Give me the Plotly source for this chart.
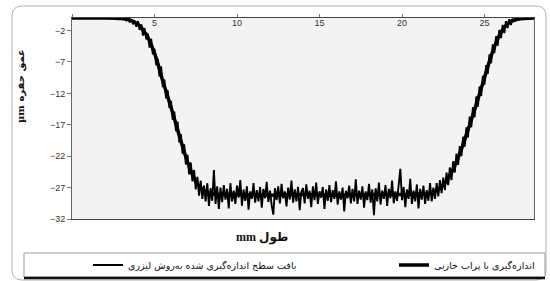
import plotly.graph_objects as go

# ---------------- data ----------------
# capacitive probe measurement (smooth profile), x in mm, depth in µm
probe_x = [0, 1, 2, 3, 3.5, 4, 4.5, 5, 5.5, 6, 6.5, 7, 7.5, 8, 8.5, 9, 10, 12, 14, 16,
           18, 20, 21, 21.5, 22, 22.5, 23, 23.5, 24, 24.5, 25, 25.5, 26, 26.5, 27, 28]
probe_y = [0, 0, 0, -0.1, -0.3, -1.0, -2.6, -5.6, -10.0, -14.2, -18.7, -22.9, -26.0, -27.5,
           -28.0, -28.1, -28.1, -28.2, -28.1, -28.2, -28.1, -28.1, -28.0, -28.0, -27.6, -26.6,
           -24.6, -21.6, -17.8, -13.8, -9.5, -5.3, -2.3, -0.7, -0.2, 0]

# laser-measured surface texture (noisy profile), sampled every 0.1 mm from 3.0 to 27.0 mm
laser_start = 3.0
laser_step = 0.1
laser_y_mid = [
    # 3.0 - 3.9
    0.0, -0.1, 0.0, -0.4, -0.1, -0.7, -0.2, -1.0, -0.5, -1.4,
    # 4.0 - 4.9
    -0.5, -1.9, -1.0, -2.8, -1.6, -3.4, -2.5, -4.7, -3.3, -5.8,
    # 5.0 - 5.9
    -4.9, -7.5, -6.5, -9.3, -7.7, -11.0, -9.8, -12.8, -11.5, -14.3,
    # 6.0 - 6.9
    -13.2, -16.2, -14.9, -18.0, -16.5, -19.8, -18.5, -21.6, -20.1, -23.3,
    # 7.0 - 7.9
    -21.8, -24.9, -23.0, -26.0, -24.2, -27.3, -25.3, -28.3, -25.9, -28.8,
    # 8.0 - 8.9
    -26.7, -29.2, -26.3, -29.9, -27.1, -29.1, -24.2, -29.6, -26.8, -30.4,
    # 9.0 - 9.9
    -27.0, -29.3, -26.6, -28.9, -27.2, -30.3, -26.3, -29.2, -27.5, -29.6,
    # 10.0 - 10.9
    -26.7, -28.6, -25.8, -29.9, -27.3, -29.1, -26.8, -30.5, -27.6, -28.8,
    # 11.0 - 11.9
    -26.3, -29.4, -27.4, -29.2, -26.9, -30.2, -27.2, -28.7, -26.1, -29.3,
    # 12.0 - 12.9
    -27.5, -29.8, -31.3, -27.1, -29.0, -26.8, -29.5, -26.4, -28.7, -27.6,
    # 13.0 - 13.9
    -30.0, -27.0, -28.9, -25.9, -29.4, -27.3, -29.2, -26.9, -30.6, -27.7,
    # 14.0 - 14.9
    -27.1, -29.5, -26.5, -28.8, -27.5, -30.1, -26.8, -29.0, -26.2, -29.6,
    # 15.0 - 15.9
    -27.6, -28.6, -26.9, -30.4, -27.3, -29.1, -26.6, -29.3, -27.4, -28.8,
    # 16.0 - 16.9
    -26.0, -29.7, -27.6, -28.9, -27.0, -30.8, -27.5, -28.7, -26.7, -29.5,
    # 17.0 - 17.9
    -27.2, -29.2, -25.7, -29.6, -27.5, -28.9, -26.8, -30.2, -27.6, -29.0,
    # 18.0 - 18.9
    -26.4, -29.4, -27.3, -31.4, -27.1, -29.2, -26.2, -29.7, -27.5, -28.8,
    # 19.0 - 19.9
    -26.6, -29.9, -27.2, -28.7, -25.9, -29.5, -27.6, -29.1, -26.7, -24.0,
    # 20.0 - 20.9
    -29.0, -26.9, -30.1, -27.3, -28.8, -25.6, -29.6, -27.5, -29.2, -26.5,
    # 21.0 - 21.9
    -30.3, -27.2, -28.9, -26.7, -29.6, -27.4, -29.1, -26.3, -29.2, -27.0,
    # 22.0 - 22.9
    -28.8, -26.3, -28.4, -25.8, -27.9, -25.4, -27.4, -24.6, -26.6, -23.8,
    # 23.0 - 23.9
    -25.8, -22.8, -24.6, -21.6, -23.4, -20.4, -22.0, -18.9, -20.5, -17.4,
    # 24.0 - 24.9
    -19.0, -15.7, -17.4, -14.2, -15.8, -12.5, -14.1, -10.9, -12.4, -9.2,
    # 25.0 - 25.9
    -10.6, -7.5, -8.9, -5.8, -7.2, -4.2, -5.6, -2.9, -4.4, -1.9,
    # 26.0 - 26.9
    -3.2, -1.1, -2.4, -0.5, -1.6, -0.2, -1.1, -0.1, -0.6, 0.0,
    # 27.0
    -0.2,
]
laser_x = [0.0] + [round(laser_start + laser_step * i, 1) for i in range(len(laser_y_mid))] + [28.0]
laser_y = [0.0] + laser_y_mid + [0.0]

x_ticks = [0, 5, 10, 15, 20, 25]
y_ticks = [-2, -7, -12, -17, -22, -27, -32]

name_probe = "اندازه‌گیری با پراب خازنی"
name_laser = "بافت سطح اندازه‌گیری شده به‌روش لیزری"
x_title = "<b>mm طول</b>"
y_title = "<b>µm عمق حفره</b>"

# ---------------- layout helpers (pixel -> paper) ----------------
W, H = 550, 281
L, R, T, B = 72, 16, 18, 62
PW, PH = W - L - R, H - T - B


def px(x):
    return (x - L) / PW


def py(y):
    return (H - B - y) / PH


fig = go.Figure()
fig.add_trace(go.Scatter(x=laser_x, y=laser_y, mode="lines", name=name_laser,
                         legend="legend",
                         line=dict(color="#000000", width=1.9)))
fig.add_trace(go.Scatter(x=probe_x, y=probe_y, mode="lines", name=name_probe,
                         legend="legend2",
                         line=dict(color="#000000", width=3.5, shape="spline")))

# outer rounded frame
x0, x1, y0, y1, r = 12, 546, 6, 280, 10
path = (f"M {px(x0 + r)},{py(y0)} L {px(x1 - r)},{py(y0)} "
        f"Q {px(x1)},{py(y0)} {px(x1)},{py(y0 + r)} L {px(x1)},{py(y1 - r)} "
        f"Q {px(x1)},{py(y1)} {px(x1 - r)},{py(y1)} L {px(x0 + r)},{py(y1)} "
        f"Q {px(x0)},{py(y1)} {px(x0)},{py(y1 - r)} L {px(x0)},{py(y0 + r)} "
        f"Q {px(x0)},{py(y0)} {px(x0 + r)},{py(y0)} Z")
fig.add_shape(type="path", path=path, xref="paper", yref="paper",
              line=dict(color="#b0b0b0", width=1), layer="below")
# legend box
fig.add_shape(type="rect", xref="paper", yref="paper",
              x0=px(24), x1=px(545), y0=py(277), y1=py(253),
              line=dict(color="#999999", width=1), fillcolor="white", layer="below")
fig.add_shape(type="line", xref="paper", yref="paper",
              x0=px(24), x1=px(545), y0=py(278), y1=py(278),
              line=dict(color="#111111", width=2.5))

fig.add_annotation(text=y_title, xref="paper", yref="paper", x=px(21), y=py(86),
                   xanchor="center", yanchor="middle",
                   textangle=-90, showarrow=False,
                   font=dict(family="DejaVu Serif, DejaVu Sans", size=10, color="#111"))
fig.add_annotation(text=x_title, xref="paper", yref="paper", x=px(262), y=py(238),
                   xanchor="center", yanchor="middle", showarrow=False,
                   font=dict(family="Liberation Serif, DejaVu Sans", size=12, color="#111"))

fig.update_xaxes(range=[0, 28], side="top", tickvals=x_ticks, ticks="outside", ticklen=3,
                 tickcolor="#777", ticklabelposition="inside", showline=True,
                 linecolor="#444", linewidth=1.2, mirror=True, showgrid=False, zeroline=False,
                 tickfont=dict(family="Liberation Sans", size=9, color="#333"))
fig.update_yaxes(range=[-32, 0], tickvals=y_ticks, ticks="outside", ticklen=4,
                 tickcolor="#777", showline=True, linecolor="#666", linewidth=1,
                 mirror=True, showgrid=False, zeroline=False,
                 tickfont=dict(family="Liberation Sans", size=9, color="#333"))

legend_font = dict(family="DejaVu Sans", size=9.5, color="#111")
fig.update_layout(
    width=W, height=H, margin=dict(l=L, r=R, t=T, b=B, autoexpand=False),
    paper_bgcolor="white", plot_bgcolor="#f3f3f3",
    showlegend=True,
    legend=dict(orientation="h", xref="paper", yref="paper", x=px(88), y=py(265),
                xanchor="left", yanchor="middle",
                bgcolor="rgba(0,0,0,0)", font=legend_font),
    legend2=dict(orientation="h", xref="paper", yref="paper", x=px(394), y=py(265),
                 xanchor="left", yanchor="middle",
                 bgcolor="rgba(0,0,0,0)", font=legend_font),
)

fig.write_html("out.html", config={"displayModeBar": False},
               post_script="document.body.style.margin='0px';document.body.style.overflow='hidden';")
